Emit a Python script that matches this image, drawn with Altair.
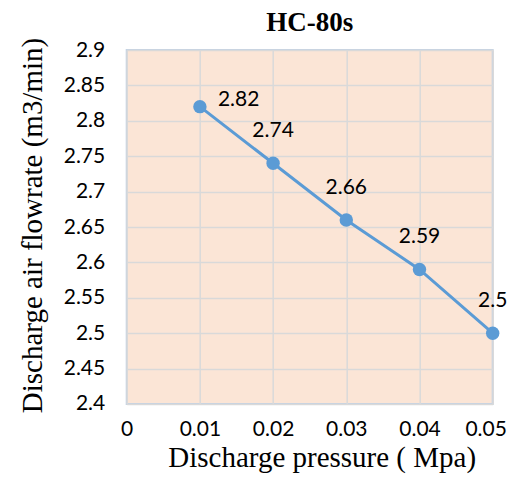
import altair as alt
import pandas as pd

pressure = [0.01, 0.02, 0.03, 0.04, 0.05]
flowrate = [2.82, 2.74, 2.66, 2.59, 2.5]
x_ticks = [0, 0.01, 0.02, 0.03, 0.04, 0.05]
y_ticks = [2.4, 2.45, 2.5, 2.55, 2.6, 2.65, 2.7, 2.75, 2.8, 2.85, 2.9]

df = pd.DataFrame({"p": pressure, "q": flowrate})
df["lbl"] = [str(v) for v in flowrate]
df["first"] = [i == 0 for i in range(len(df))]

LBL_FONT = "Lato"
SERIF = "Liberation Serif"
BLUE = "#5B9BD5"
FS = 21

x = alt.X(
    "p:Q",
    scale=alt.Scale(domain=[0, 0.05], nice=False, zero=False),
    axis=alt.Axis(
        values=x_ticks, title="Discharge pressure ( Mpa)", format="~g",
        labelFont=LBL_FONT, labelFontSize=FS, labelColor="#000000",
        labelPadding=15, ticks=False, domain=False,
        labelOffset=alt.condition("datum.value >= 0.049", alt.value(-7), alt.value(0)),
        grid=True, gridColor="#D9D9D9", gridWidth=1.5,
        titleFont=SERIF, titleFontSize=29, titleFontWeight="normal", titleColor="#000000",
        titleX=195, titleY=54, titleBaseline="middle", labelFlush=False,
    ),
)
y = alt.Y(
    "q:Q",
    scale=alt.Scale(domain=[2.4, 2.9], nice=False, zero=False),
    axis=alt.Axis(
        values=y_ticks, title="Discharge air flowrate (m3/min)", format="~g",
        labelFont=LBL_FONT, labelFontSize=FS, labelColor="#000000",
        labelPadding=22, ticks=False, domain=False,
        grid=True, gridColor="#D9D9D9", gridWidth=1.5,
        titleFont=SERIF, titleFontSize=29, titleFontWeight="normal", titleColor="#000000",
        titleX=-94, titleY=175, titleBaseline="middle", titleAngle=-90, labelFlush=False,
    ),
)

base = alt.Chart(df)
line = base.mark_line(color=BLUE, strokeWidth=3).encode(x=x, y=y)
pts = base.mark_circle(color=BLUE, size=180, opacity=1).encode(x=x, y=y)
lbl_first = base.transform_filter("datum.first").mark_text(
    align="left", baseline="middle", dx=18, dy=-7, font=LBL_FONT, fontSize=FS, color="#000000"
).encode(x=x, y=y, text="lbl:N")
lbl_rest = base.transform_filter("!datum.first").mark_text(
    align="center", baseline="middle", dy=-32, font=LBL_FONT, fontSize=FS, color="#000000"
).encode(x=x, y=y, text="lbl:N")

chart = (
    alt.layer(line, pts, lbl_first, lbl_rest)
    .properties(
        width=366, height=354,
        title=alt.TitleParams("HC-80s", font=SERIF, fontSize=27, fontWeight="bold",
                              color="#000000", anchor="middle", offset=0),
        autosize=alt.AutoSizeParams(type="none"),
        padding={"left": 118.7, "top": 42, "right": 15, "bottom": 72},
        background="#FFFFFF",
    )
    .configure_view(fill="#FBE5D6", stroke="#C3D2E3", strokeWidth=2)
)

chart.save("out.html", embed_options={"renderer": "svg", "actions": False})
